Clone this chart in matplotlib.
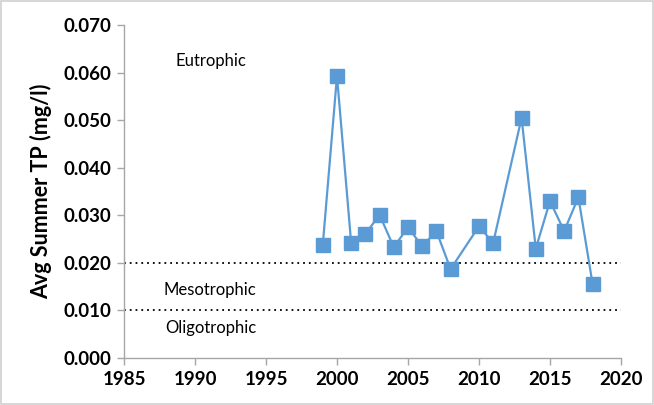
import matplotlib.pyplot as plt
from matplotlib import ticker
from matplotlib.patches import Rectangle

plt.rcParams["font.family"] = ["Lato", "DejaVu Sans"]

years = [1999, 2000, 2001, 2002, 2003, 2004, 2005, 2006, 2007, 2008,
         2010, 2011, 2013, 2014, 2015, 2016, 2017, 2018]
avg_tp = [0.0238, 0.0593, 0.0241, 0.0261, 0.0301, 0.0233, 0.0275, 0.0235, 0.0267, 0.0187,
          0.0277, 0.0242, 0.0505, 0.0230, 0.0330, 0.0267, 0.0338, 0.0156]
thresholds = [0.020, 0.010]
zone_labels = ["Eutrophic", "Mesotrophic", "Oligotrophic"]
zone_pos = [(1988.6, 0.0625), (1987.8, 0.0143), (1987.9, 0.0063)]

fig = plt.figure(figsize=(6.54, 4.05), dpi=100)
ax = fig.add_axes([0.1896, 0.116, 0.7599, 0.822])

ax.plot(years, avg_tp, color="#5B9BD5", linewidth=1.6, marker="s",
        markersize=9.5, markeredgecolor="#5B9BD5", zorder=3)

for t in thresholds:
    ax.axhline(t, color="black", linestyle=(0, (1, 2.2)), linewidth=1.3, zorder=2)

for lab, (x, y) in zip(zone_labels, zone_pos):
    ax.text(x, y, lab, fontsize=12, va="center", ha="left")

ax.set_xlim(1985, 2020)
ax.set_ylim(0, 0.070)
ax.xaxis.set_major_locator(ticker.MultipleLocator(5))
ax.yaxis.set_major_locator(ticker.MultipleLocator(0.01))
ax.yaxis.set_major_formatter(ticker.FormatStrFormatter("%.3f"))

for s in ["top", "right"]:
    ax.spines[s].set_visible(False)
for s in ["left", "bottom"]:
    ax.spines[s].set_color("#A6A6A6")
    ax.spines[s].set_linewidth(1.0)
ax.tick_params(direction="out", length=5, width=1.0, color="#A6A6A6",
               labelsize=13.5, pad=4)
for lab in ax.get_xticklabels() + ax.get_yticklabels():
    lab.set_fontweight("bold")

ax.set_ylabel("Avg Summer TP (mg/l)", fontsize=15.5, fontweight="bold", labelpad=8)

fig.patches.append(Rectangle((0.002, 0.002), 0.996, 0.996, transform=fig.transFigure,
                             fill=False, edgecolor="#D0D0D0", linewidth=1.2))

fig.savefig("out.png", dpi=100)
